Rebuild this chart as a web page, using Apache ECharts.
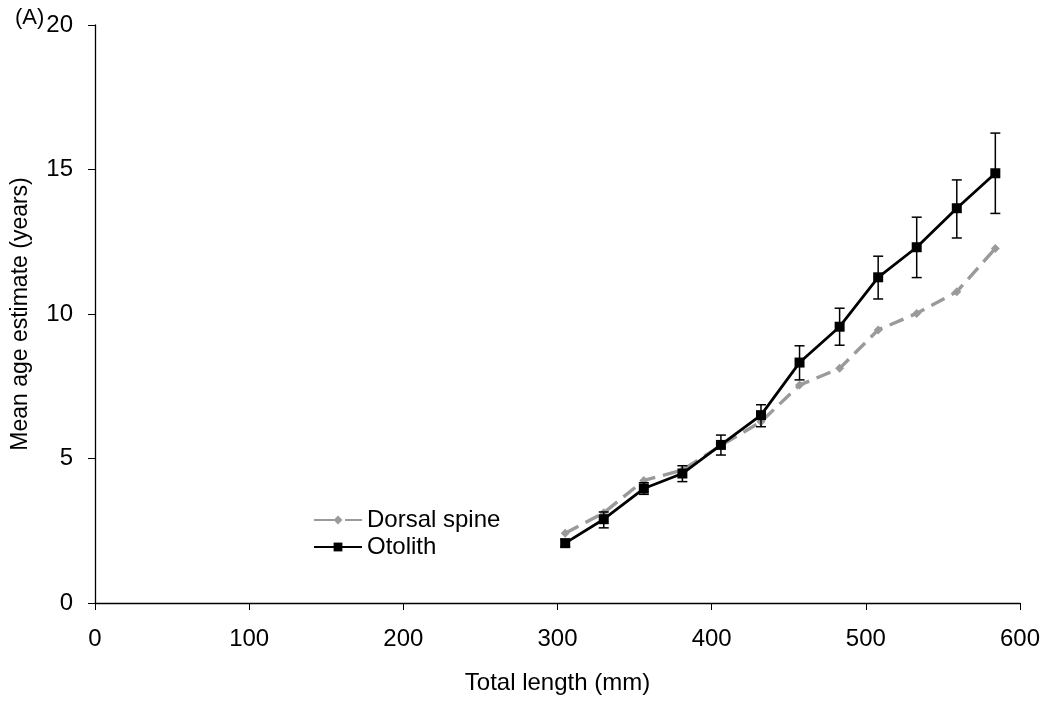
<!DOCTYPE html>
<html>
<head>
<meta charset="utf-8">
<script src="https://cdn.jsdelivr.net/npm/echarts@6/dist/echarts.min.js"></script>
<style>
  html, body { margin: 0; padding: 0; background: #fff; }
  #chart { width: 1049px; height: 702px; }
</style>
</head>
<body>
<div id="chart"></div>
<script>
// Fish total length classes (mm)
const lengths = [305, 330, 356, 381, 406, 432, 457, 483, 508, 533, 559, 584];
// Mean age estimates (years)
const dorsalSpine = [2.41, 3.12, 4.24, 4.6, 5.45, 6.27, 7.54, 8.12, 9.45, 10.02, 10.77, 12.27];
const otolith     = [2.07, 2.9, 3.96, 4.48, 5.47, 6.5, 8.32, 9.56, 11.27, 12.31, 13.66, 14.87];
// Error bar limits for otolith means
const otoLow  = [1.95, 2.6, 3.76, 4.2, 5.12, 6.1, 7.72, 8.92, 10.52, 11.26, 12.63, 13.48];
const otoHigh = [2.2, 3.15, 4.16, 4.75, 5.81, 6.86, 8.9, 10.2, 12.0, 13.35, 14.64, 16.26];
const xTicks = [0, 100, 200, 300, 400, 500, 600];
const yTicks = [0, 5, 10, 15, 20];

const font = '"Liberation Sans", Arial, sans-serif';
const chart = echarts.init(document.getElementById('chart'));

const errData = lengths.map((x, i) => [x, otoLow[i], otoHigh[i]]);

chart.setOption({
  animation: false,
  backgroundColor: '#fff',
  textStyle: { fontFamily: font },
  grid: { left: 95, right: 29, top: 25, bottom: 99 },
  title: {
    text: '(A)', left: 10, top: 2,
    textStyle: { fontFamily: font, fontSize: 22, fontWeight: 'normal', color: '#000' }
  },
  legend: {
    orient: 'vertical', left: 308, top: 503, itemWidth: 48, itemHeight: 11, itemGap: 3,
    textStyle: { fontFamily: font, fontSize: 24, color: '#000' },
    data: [
      { name: 'Dorsal spine', lineStyle: { type: [20, 11] } },
      { name: 'Otolith' }
    ]
  },
  xAxis: {
    type: 'value', min: xTicks[0], max: xTicks[xTicks.length - 1], interval: 100,
    name: 'Total length (mm)', nameLocation: 'middle', nameGap: 68,
    nameTextStyle: { fontFamily: font, fontSize: 24, color: '#000' },
    axisLine: { lineStyle: { color: '#000', width: 1.3 } },
    axisTick: { show: true, inside: false, length: 7, lineStyle: { color: '#000' } },
    axisLabel: { fontFamily: font, fontSize: 24, color: '#000', margin: 24 },
    splitLine: { show: false }
  },
  yAxis: {
    type: 'value', min: yTicks[0], max: yTicks[yTicks.length - 1], interval: 5,
    name: 'Mean age estimate (years)', nameLocation: 'middle', nameGap: 63,
    nameTextStyle: { fontFamily: font, fontSize: 23, color: '#000' },
    axisLine: { show: true, lineStyle: { color: '#000', width: 1.3 } },
    axisTick: { show: true, inside: false, length: 7, lineStyle: { color: '#000' } },
    axisLabel: { fontFamily: font, fontSize: 24, color: '#000', margin: 22 },
    splitLine: { show: false }
  },
  series: [
    {
      name: 'Dorsal spine', type: 'line',
      data: lengths.map((x, i) => [x, dorsalSpine[i]]),
      symbol: 'diamond', symbolSize: 9, showSymbol: true,
      itemStyle: { color: '#9a9a9a' },
      lineStyle: { color: '#9a9a9a', width: 3.4, type: [15, 8] },
      z: 2
    },
    {
      name: 'Otolith', type: 'line',
      data: lengths.map((x, i) => [x, otolith[i]]),
      symbol: 'rect', symbolSize: 10, showSymbol: true,
      itemStyle: { color: '#000' },
      lineStyle: { color: '#000', width: 2.8 },
      z: 4
    },
    {
      name: 'Otolith error', type: 'custom',
      data: errData,
      z: 3,
      renderItem: function (params, api) {
        const x = api.value(0);
        const lo = api.coord([x, api.value(1)]);
        const hi = api.coord([x, api.value(2)]);
        const cap = 5;
        const style = { stroke: '#000', lineWidth: 1.5, fill: null };
        return {
          type: 'group',
          children: [
            { type: 'line', shape: { x1: lo[0], y1: lo[1], x2: hi[0], y2: hi[1] }, style: style },
            { type: 'line', shape: { x1: lo[0] - cap, y1: lo[1], x2: lo[0] + cap, y2: lo[1] }, style: style },
            { type: 'line', shape: { x1: hi[0] - cap, y1: hi[1], x2: hi[0] + cap, y2: hi[1] }, style: style }
          ]
        };
      }
    }
  ]
});
</script>
</body>
</html>
